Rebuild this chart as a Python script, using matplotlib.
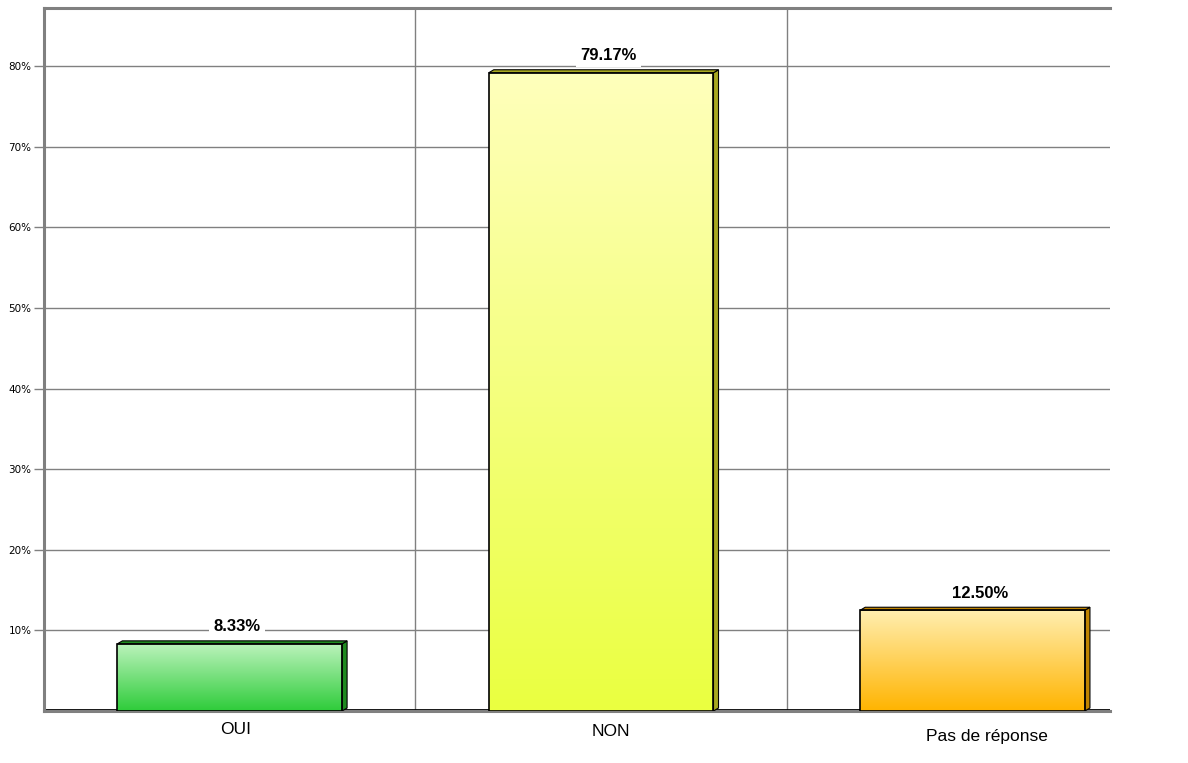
import numpy as np
import matplotlib.pyplot as plt
from matplotlib.patches import Rectangle, Polygon
from matplotlib.colors import LinearSegmentedColormap

categories = ['OUI', 'NON', 'Pas de réponse']
values = [8.33, 79.17, 12.50]
labels = ['8.33%', '79.17%', '12.50%']
yticks = [10, 20, 30, 40, 50, 60, 70, 80]

top_colors = ['#bdf3bd', '#ffffbc', '#ffeeb0']
bottom_colors = ['#2ecc3a', '#eaff40', '#ffb400']
side_colors = ['#1f8a1f', '#a8a820', '#c08400']

plt.rcParams['font.family'] = ['Liberation Sans Narrow', 'Liberation Sans', 'DejaVu Sans']

fig = plt.figure(figsize=(11.88, 7.63), dpi=100)
ax = fig.add_axes([44 / 1188, 52 / 763, 1066 / 1188, 703 / 763])

# grid
for y in yticks:
    ax.axhline(y, color='#808080', lw=1, zorder=1)
for x in [0.5, 1.5]:
    ax.axvline(x, color='#808080', lw=1, zorder=1)

width = 0.605
dx, dy = 0.0135, 0.37
for i, (v, lab) in enumerate(zip(values, labels)):
    x0 = i - width / 2
    cmap = LinearSegmentedColormap.from_list('g', [bottom_colors[i], top_colors[i]])
    grad = np.linspace(0, 1, 256).reshape(-1, 1)
    rect = Rectangle((x0, 0), width, v, facecolor='none', edgecolor='black', lw=1.2, zorder=4)
    ax.add_patch(rect)
    im = ax.imshow(grad, extent=(x0, x0 + width, 0, v), origin='lower', cmap=cmap,
                   aspect='auto', zorder=3, interpolation='bilinear')
    im.set_clip_path(rect)
    ax.add_patch(Polygon([(x0 + width, 0), (x0 + width + dx, dy), (x0 + width + dx, v + dy),
                          (x0 + width, v)], closed=True, facecolor=side_colors[i],
                         edgecolor='black', lw=0.8, zorder=3))
    ax.add_patch(Polygon([(x0, v), (x0 + dx, v + dy), (x0 + width + dx, v + dy),
                          (x0 + width, v)], closed=True, facecolor=side_colors[i],
                         edgecolor='black', lw=0.8, zorder=3))
    ax.annotate(lab, (i + 0.02, v), xytext=(0, 7), textcoords='offset points', ha='center',
                va='bottom', fontsize=12, fontweight='bold',
                bbox=dict(facecolor='white', edgecolor='none', pad=3), zorder=5)

ax.axhline(0.15, color='black', lw=2, zorder=2)

# category labels
label_dx = [0.015, 0.027, 0.04]
label_dy = [-13, -15, -18]
for i, c in enumerate(categories):
    ax.annotate(c, (i + label_dx[i], 0), xytext=(0, label_dy[i]), textcoords='offset points',
                ha='center', va='center', fontsize=12.5)

ax.set_xlim(-0.5, 2.37)
ax.set_ylim(0, 87.2)
ax.set_xticks([])
ax.set_yticks(yticks)
ax.set_yticklabels([f'{t}%' for t in yticks], fontsize=7.5, family='DejaVu Sans')
ax.tick_params(axis='y', length=7, color='#808080', width=1, pad=2)

for s in ['left', 'top', 'bottom']:
    ax.spines[s].set_color('#808080')
    ax.spines[s].set_linewidth(2.2)
ax.spines['right'].set_visible(False)

fig.savefig('out.png', dpi=100, facecolor='white')
